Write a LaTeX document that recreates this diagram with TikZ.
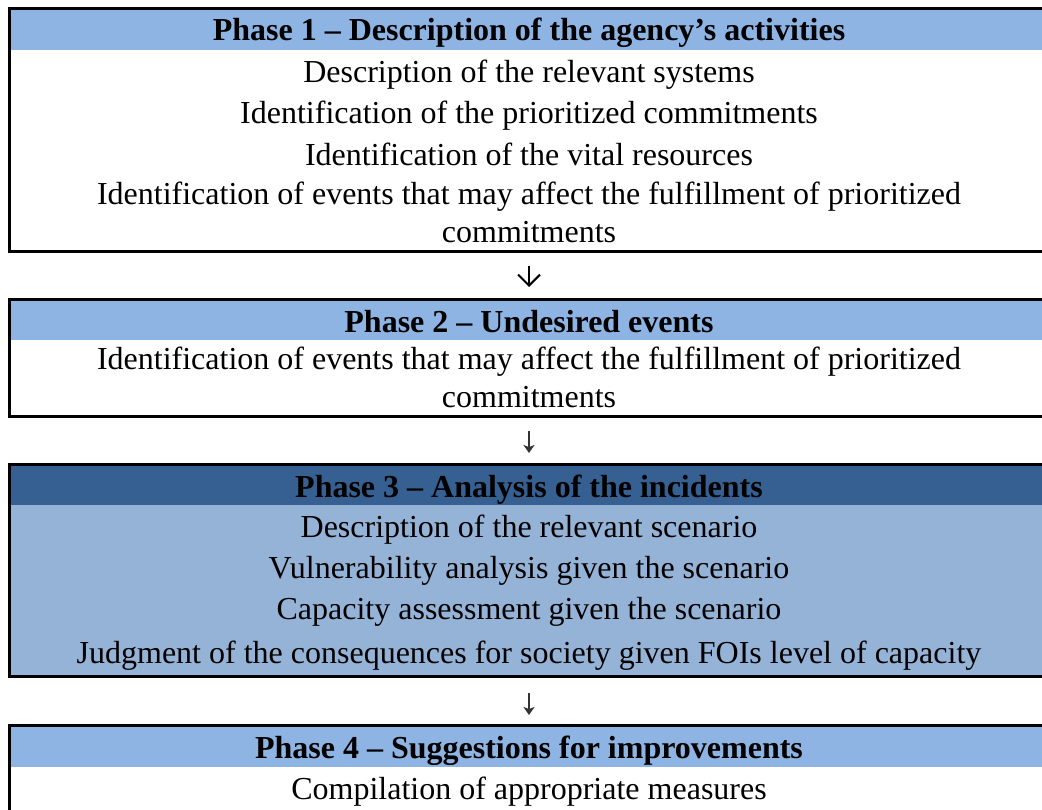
\documentclass[tikz,border=0pt]{standalone}
\usepackage{fontspec}
\setmainfont{Liberation Serif}
\usetikzlibrary{arrows.meta,calc}
\definecolor{hdr}{HTML}{8EB4E3}
\definecolor{hdrdark}{HTML}{366092}
\definecolor{bodyblue}{HTML}{95B3D7}
\begin{document}
\begin{tikzpicture}[x=1pt,y=-1pt,
  txt/.style={font=\fontsize{32}{38}\selectfont, inner sep=0pt, anchor=base, align=center},
  hd/.style={font=\fontsize{32}{38}\selectfont\bfseries, inner sep=0pt, anchor=base, align=center},
  frame/.style={draw=black, line width=3pt, inner sep=0pt, anchor=north west},
  bigarr/.style={line width=2pt, -{Straight Barb[length=11pt,width=22pt,line width=2pt]}},
  smallarr/.style={line width=1.6pt, draw=black!80, -{Stealth[length=8pt,width=11pt,inset=2pt]}}
]
\useasboundingbox (0,0) rectangle (1042,809);
\clip (0,0) rectangle (1042,809);
% ---------- Phase 1
\fill[hdr] (7.5,6.5) rectangle (1060,50);
\node[frame, minimum width=1052.5pt, minimum height=243.5pt] (b1) at (7.5,6.5) {};
\node[hd] (h1) at (529,40) {Phase 1 – Description of the agency’s activities};
\node[txt] (t11) at (529,82) {Description of the relevant systems};
\node[txt] (t12) at (529,123) {Identification of the prioritized commitments};
\node[txt] (t13) at (529,165) {Identification of the vital resources};
\node[txt] (t14) at (529,242) {Identification of events that may affect the fulfillment of prioritized\\commitments};
% ---------- Phase 2
\fill[hdr] (7.5,297.5) rectangle (1060,340);
\node[frame, minimum width=1052.5pt, minimum height=117pt] (b2) at (7.5,297.5) {};
\node[hd] (h2) at (529,332) {Phase 2 – Undesired events};
\node[txt] (t21) at (529,407) {Identification of events that may affect the fulfillment of prioritized\\commitments};
% ---------- Phase 3
\fill[hdrdark] (7.5,462.5) rectangle (1060,505);
\fill[bodyblue] (7.5,505) rectangle (1060,675);
\node[frame, minimum width=1052.5pt, minimum height=212.5pt] (b3) at (7.5,462.5) {};
\node[hd] (h3) at (529,497) {Phase 3 – Analysis of the incidents};
\node[txt] (t31) at (529,537) {Description of the relevant scenario};
\node[txt] (t32) at (529,578) {Vulnerability analysis given the scenario};
\node[txt] (t33) at (529,619) {Capacity assessment given the scenario};
\node[txt] (t34) at (529,663) {Judgment of the consequences for society given FOIs level of capacity};
% ---------- Phase 4
\fill[hdr] (7.5,723.5) rectangle (1060,767);
\node[frame, minimum width=1052.5pt, minimum height=140pt] (b4) at (7.5,723.5) {};
\node[hd] (h4) at (529,758) {Phase 4 – Suggestions for improvements};
\node[txt] (t41) at (529,799) {Compilation of appropriate measures};
% ---------- arrows
\coordinate (a1s) at ($(b1.south -| h1.base)+(0,13)$);
\coordinate (a1e) at ($(b2.north -| h2.base)+(0,-10.5)$);
\coordinate (a2s) at ($(b2.south -| h2.base)+(0,13.5)$);
\coordinate (a2e) at ($(b3.north -| h3.base)+(0,-9.5)$);
\coordinate (a3s) at ($(b3.south -| h3.base)+(0,15)$);
\coordinate (a3e) at ($(b4.north -| h4.base)+(0,-8.5)$);
\draw[bigarr] (a1s) -- (a1e);
\draw[smallarr] (a2s) -- (a2e);
\draw[smallarr] (a3s) -- (a3e);
\end{tikzpicture}
\end{document}
